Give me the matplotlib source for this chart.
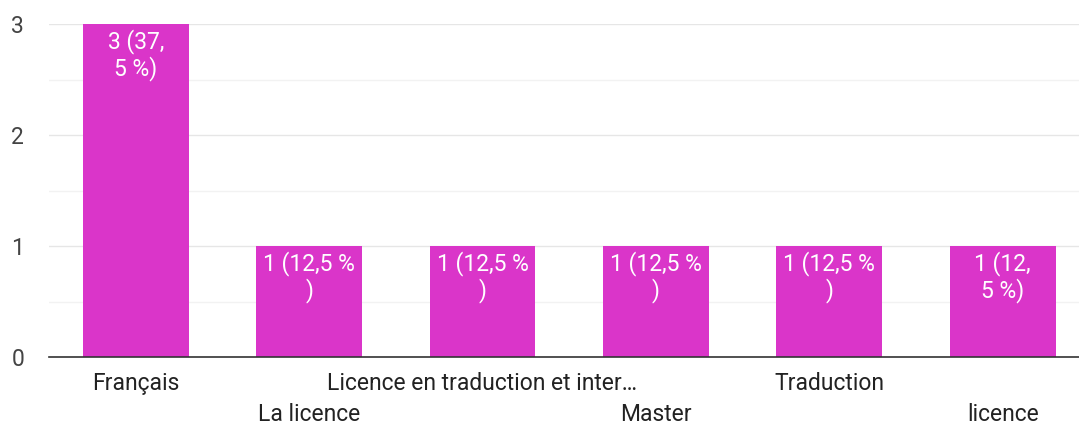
import matplotlib
matplotlib.use("Agg")
import matplotlib.pyplot as plt
import matplotlib.transforms as mtransforms
import numpy as np

# categories, counts, in-bar labels
categories = ["Français", "La licence", "Licence en traduction et inter…",
              "Master", "Traduction", "licence"]
counts = [3, 1, 1, 1, 1, 1]
bar_labels = ["3 (37,\n5 %)", "1 (12,5 %\n)", "1 (12,5 %\n)",
              "1 (12,5 %\n)", "1 (12,5 %\n)", "1 (12,\n5 %)"]
yticks = [0, 1, 2, 3]

BAR = "#da35c9"
FS = 16.5
plt.rcParams["font.family"] = ["Roboto", "DejaVu Sans"]

fig = plt.figure(figsize=(10.79, 4.24), dpi=100)
W, H = 1079, 424
ax = fig.add_axes([49 / W, 1 - 357 / H, (1079 - 49) / W, (357 - 24) / H])

x = np.arange(len(categories))
ax.bar(x, counts, width=0.61, color=BAR, zorder=3)

# in-bar labels: one text per line, baselines offset in pixels from bar top
for xi, c, lab in zip(x, counts, bar_labels):
    for k, line in enumerate(lab.split("\n")):
        tr = mtransforms.offset_copy(ax.transData, fig, y=-(24 + 27.5 * k), units="dots")
        ax.text(xi, c, line, ha="center", va="baseline", color="white",
                fontsize=FS, zorder=4, transform=tr)

ax.set_xlim(-0.5, 5.44)
ax.set_ylim(0, 3)
ax.set_yticks(yticks)
ax.set_yticks(np.arange(0.5, 3, 1), minor=True)
ax.grid(axis="y", which="major", color="#e6e6e6", lw=1, zorder=0)
ax.grid(axis="y", which="minor", color="#f2f2f2", lw=1, zorder=0)
ax.tick_params(axis="y", which="both", length=0, labelsize=FS,
               labelcolor="#444444", pad=27)
for lab in ax.get_yticklabels():
    lab.set_horizontalalignment("left")

# category labels staggered on two rows
ax.set_xticks(x)
ax.set_xticklabels([])
ax.tick_params(axis="x", length=0)
blend = mtransforms.blended_transform_factory(ax.transData, ax.transAxes)
for i, c in enumerate(categories):
    dy = 33 if i % 2 == 0 else 64
    tr = mtransforms.offset_copy(blend, fig, y=-dy, units="dots")
    ax.text(x[i], 0, c, ha="center", va="baseline", fontsize=FS,
            color="#222222", transform=tr, clip_on=False)

for s in ["top", "right", "left"]:
    ax.spines[s].set_visible(False)
ax.spines["bottom"].set_color("#333333")
ax.spines["bottom"].set_linewidth(1.2)
ax.spines["bottom"].set_zorder(5)

fig.savefig("out.png", dpi=100)
